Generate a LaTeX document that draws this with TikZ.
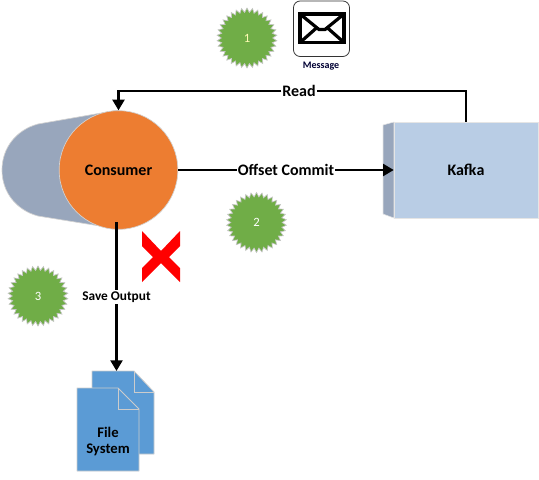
\documentclass[tikz,border=0pt]{standalone}
\usepackage{fontspec}
\setmainfont{Carlito}
\usepackage{xcolor}
\usetikzlibrary{shapes.geometric, arrows.meta, positioning}
\definecolor{shadeblue}{HTML}{98A6BC}
\definecolor{paleblue}{HTML}{B9CDE5}
\definecolor{fileblue}{HTML}{5B9BD5}
\definecolor{burstgreen}{HTML}{70AD47}
\definecolor{pumpkin}{HTML}{ED7D31}

\begin{document}
\begin{tikzpicture}[
    x=0.75pt, y=-0.75pt,
    pipe/.style={draw=gray!35, fill=shadeblue, line width=0.5pt},
    consumer/.style={circle, draw=gray!35, fill=pumpkin, line width=0.5pt, minimum size=89pt, inner sep=0pt, font=\fontsize{12}{14}\selectfont\bfseries},
    broker/.style={rectangle, draw=gray!20, fill=paleblue, line width=0.4pt, minimum width=108pt, minimum height=72pt, inner sep=0pt, font=\fontsize{12}{14}\selectfont\bfseries},
    burst/.style={star, star points=34, star point ratio=1.17, draw=gray!45, fill=burstgreen, line width=0.5pt, minimum size=45pt, inner sep=0pt, font=\fontsize{9.5}{11}\selectfont},
    doc/.style={draw=gray!40, fill=fileblue, line width=0.6pt, line join=round},
    linelabel/.style={fill=white, inner sep=0.5pt, font=\fontsize{12}{14}\selectfont\bfseries},
    savelabel/.style={fill=white, inner sep=1pt, font=\fontsize{10}{12}\selectfont\bfseries},
    line/.style={draw, line width=1.7pt},
    arrow/.style={draw, line width=1.7pt, -{Triangle[length=8pt, width=9pt]}}
]
\useasboundingbox (0,0) rectangle (539,479);

% consumer with its body
\path[pipe] (118.5,110) -- (38,124) .. controls (16,130) and (2,148) .. (2,170) .. controls (2,192) and (16,210) .. (38,216) -- (118.5,229) -- cycle;
\node[consumer] (consumer) at (118.5,170) {Consumer};

% kafka box
\path[fill=shadeblue, draw=gray!20, line width=0.4pt] (383,125) -- (394,122) -- (394,218) -- (383,214) -- cycle;
\node[broker] (kafka) at (466,170) {Kafka};

% numbered bursts
\node[burst, text=yellow!30] (one) at (247,38) {1};
\node[burst, text=white] (two) at (256.5,222.5) {2};
\node[burst, text=white] (three) at (38,296) {3};

% message icon
\draw[gray!40!black, fill=white, line width=0.6pt, rounded corners=5pt] (293.5,1) rectangle (349.5,56.5);
\draw[line width=2.4pt, line join=miter] (300,14) rectangle (344,42.5);
\draw[line width=2.4pt] (300,14) -- (319,29.5) -- (325,29.5) -- (344,14);
\draw[line width=2.4pt] (300,42.5) -- (317,27.5);
\draw[line width=2.4pt] (344,42.5) -- (327,27.5);
\node[font=\fontsize{7.5}{9}\selectfont\bfseries, text=black!80!blue, inner sep=0pt] (message) at (321,66) {Message};

% red cross
\fill[red] (142,231) -- (161,251) -- (180,231) -- (180,246) -- (169,257) -- (180,268) -- (180,282) -- (161,263) -- (142,282) -- (142,268) -- (153,257) -- (142,246) -- cycle;

% file system pages
\path[doc] (92,371) -- (134,371) -- (154,392) -- (154,454) -- (92,454) -- cycle;
\draw[gray!40, line width=0.6pt] (134,371) -- (134,392) -- (154,392);
\path[doc] (77,388) -- (118,388) -- (139,409) -- (139,471) -- (77,471) -- cycle;
\draw[gray!40, line width=0.6pt] (118,388) -- (118,409) -- (139,409);
\node[align=center, font=\fontsize{11}{12}\selectfont\bfseries, inner sep=0pt] (files) at (108,441) {File\\System};

% connectors
\node[linelabel] (read) at (299,91) {Read};
\node[linelabel] (offset) at (286,170) {Offset Commit};
\node[savelabel] (save) at (116.5,297) {Save Output};
\coordinate (savestart) at (116.5,222);
\coordinate (filetop) at (116.5,371);
\draw[line] (kafka.north) |- (read);
\draw[arrow] (read) -| (consumer.north);
\draw[line] (consumer.east) -- (offset);
\draw[arrow] (offset) -- (kafka.west);
\draw[line] (savestart) -- (save);
\draw[arrow] (save) -- (filetop);
\end{tikzpicture}
\end{document}
